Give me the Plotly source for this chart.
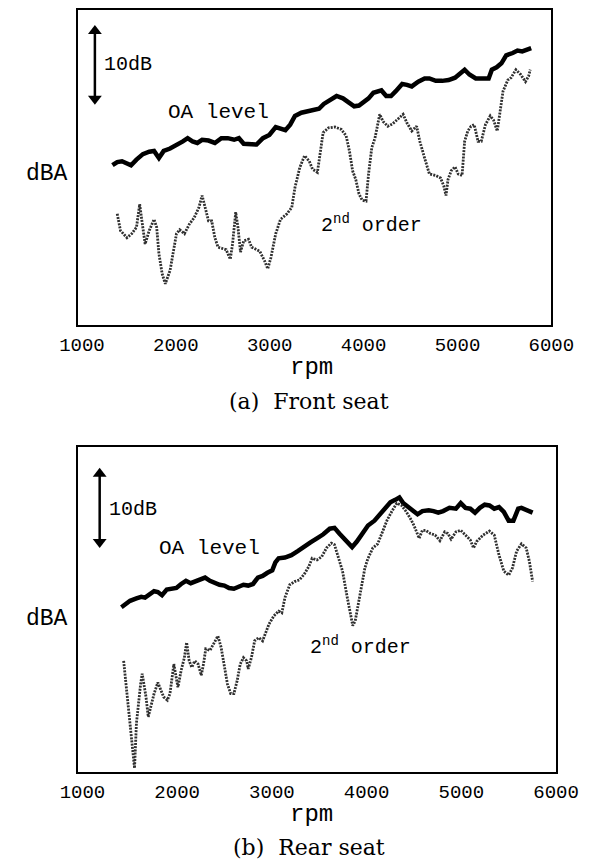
import plotly.graph_objects as go

# ---------------- data ----------------
front_oa_rpm = [1325,1376,1427,1479,1523,1581,1649,1717,1768,1820,1871,1939,2007,2075,2126,2178,2229,2280,2348,2416,
                2485,2553,2621,2672,2723,2791,2860,2928,2996,3064,3115,3167,3218,3269,3337,3405,3473,3525,3576,3644,
                3712,3780,3831,3900,3951,4019,4053,4104,4190,4241,4292,4343,4411,4462,4513,4582,4650,4701,4769,4837,
                4906,4974,5042,5076,5127,5195,5264,5332,5366,5417,5468,5519,5588,5639,5690,5741,5785]
front_oa_db = [20.1,20.5,20.6,20.3,20.1,20.8,21.5,21.8,21.9,21.0,21.9,22.2,22.6,23.1,23.5,23.1,22.9,23.3,23.2,22.9,
               23.5,23.5,23.3,23.5,22.8,22.7,22.7,23.5,23.9,24.9,24.7,24.5,25.2,26.3,26.7,26.9,27.0,27.2,27.8,28.3,
               28.8,28.5,28.1,27.5,27.6,28.2,28.5,29.2,29.5,28.8,28.8,29.4,30.3,30.2,30.0,30.6,31.0,31.0,30.7,30.7,
               30.8,31.1,31.8,32.1,31.5,31.0,31.0,31.0,32.1,32.4,32.9,33.9,34.2,34.5,34.4,34.6,34.8]

front_o2_rpm = [1376,1410,1479,1530,1581,1615,1639,1673,1717,1768,1796,1820,1854,1888,1939,1973,2007,2041,2092,2144,
                2195,2246,2280,2321,2348,2382,2416,2450,2502,2536,2580,2604,2638,2662,2689,2723,2774,2808,2843,2894,
                2945,2979,3013,3064,3115,3184,3235,3269,3320,3371,3422,3456,3508,3542,3569,3627,3695,3763,3814,3849,
                3883,3917,3951,3985,4026,4053,4087,4121,4172,4207,4258,4309,4360,4421,4462,4513,4565,4599,4650,4701,
                4769,4820,4854,4878,4899,4933,4974,5008,5049,5076,5110,5144,5178,5219,5253,5298,5349,5383,5424,5451,
                5485,5536,5571,5622,5673,5724,5758,5775]
front_o2_db = [14.0,11.9,11.0,11.5,12.3,15.2,13.1,10.2,11.9,13.3,12.3,9.0,6.5,5.2,6.9,9.4,11.5,12.0,11.5,12.7,
               13.5,14.8,16.3,14.4,13.1,13.1,11.0,9.8,9.6,9.5,8.3,10.2,14.2,12.3,9.2,10.6,10.8,9.8,9.6,9.3,
               8.1,7.1,8.5,11.5,13.3,14.0,14.8,17.3,19.8,21.3,20.6,19.6,19.2,21.9,24.2,24.8,24.9,24.6,23.8,21.9,
               19.4,18.3,16.5,15.7,15.6,19.0,22.3,23.5,26.5,25.6,25.0,25.3,25.8,26.5,25.4,24.4,25.0,23.1,21.0,19.0,
               18.8,18.5,17.5,16.3,18.3,19.4,19.9,19.0,18.8,23.1,24.4,25.0,25.2,23.1,23.1,25.2,26.3,25.8,24.4,26.9,
               29.4,30.8,31.1,32.1,31.5,30.6,31.3,32.1]

rear_oa_rpm = [1411,1452,1503,1570,1621,1661,1705,1756,1796,1840,1890,1941,1992,2042,2093,2143,2194,2245,2295,2346,
               2396,2447,2498,2548,2599,2649,2700,2750,2801,2852,2902,2953,3004,3037,3071,3138,3206,3273,3341,3408,
               3476,3543,3611,3661,3712,3779,3847,3897,3948,4015,4083,4150,4201,4251,4302,4346,4386,4454,4504,4538,
               4589,4656,4707,4757,4808,4875,4943,4994,5044,5095,5145,5196,5247,5297,5348,5398,5449,5500,5550,5601,
               5635,5685,5753]
rear_oa_db = [20.6,21.0,21.4,21.7,21.9,21.8,22.2,22.6,22.5,22.1,22.8,22.9,23.0,23.5,23.9,23.6,23.8,24.1,24.3,23.9,
              23.6,23.4,23.3,23.0,22.9,23.2,23.4,23.3,23.5,24.3,24.5,24.9,25.2,26.2,26.7,26.8,27.1,27.6,28.2,28.7,
              29.2,29.7,30.4,30.5,29.8,29.0,28.1,28.8,29.6,30.8,31.4,32.3,32.9,33.7,34.0,34.3,33.6,32.9,32.5,32.2,
              32.6,32.7,32.6,32.4,32.6,33.0,32.9,33.6,33.0,32.9,32.4,33.0,33.4,33.3,32.9,33.1,32.5,31.4,31.4,32.9,
              33.0,32.7,32.4]

rear_o2_rpm = [1435,1459,1486,1513,1536,1550,1570,1587,1614,1631,1648,1671,1695,1722,1756,1796,1830,1857,1897,1924,
               1965,1992,2008,2042,2076,2100,2127,2154,2187,2221,2255,2278,2302,2346,2380,2430,2464,2491,2531,2565,
               2599,2633,2666,2700,2734,2750,2784,2818,2862,2902,2936,2970,3020,3071,3105,3138,3189,3240,3290,3341,
               3391,3425,3476,3526,3577,3628,3661,3695,3746,3796,3830,3854,3880,3914,3948,3982,4015,4066,4117,4167,
               4218,4268,4319,4370,4420,4471,4504,4555,4589,4623,4673,4724,4774,4825,4859,4892,4943,4994,5044,5095,
               5129,5162,5230,5297,5348,5398,5449,5500,5540,5584,5635,5685,5719,5753]
rear_o2_db = [13.9,11.0,7.3,4.4,2.1,0.5,6.1,8.1,11.0,12.3,11.0,9.4,6.9,8.1,9.8,11.2,10.2,9.4,9.0,9.8,
              13.5,11.9,10.6,12.7,14.3,16.2,13.9,13.1,13.9,13.5,12.1,13.5,15.4,15.2,16.0,17.0,15.6,13.5,11.0,9.8,
              9.8,11.4,13.5,14.3,13.9,12.9,14.3,16.4,16.8,16.4,17.4,18.5,19.5,20.1,19.9,21.8,23.4,23.8,24.0,24.7,
              25.7,26.7,26.5,26.9,28.0,28.6,28.4,27.1,25.1,21.8,19.7,18.3,18.9,21.0,23.4,25.5,26.7,28.0,28.5,30.0,
              31.5,32.6,33.6,33.3,32.5,31.5,30.7,29.2,30.2,30.2,29.8,29.6,28.9,30.0,29.8,29.1,30.0,30.2,29.6,29.0,
              28.0,28.8,29.6,30.1,29.6,27.1,25.1,24.6,25.5,27.6,28.5,28.0,26.3,23.8]

rpm_ticks = [1000, 2000, 3000, 4000, 5000, 6000]
scale_db = 10  # length of the scale arrow, dB
captions = ["(a)\u00a0 Front seat", "(b)\u00a0 Rear seat"]

# ---------------- figure ----------------
W, H = 600, 860
OFF = 8  # page body margin of the browser
MONO = "Liberation Mono, Courier New, monospace"
SERIF = "DejaVu Serif, Liberation Serif, serif"

def px(x):
    return min(1.0, max(0.0, (x - OFF) / W))

def py(y):
    return min(1.0, max(0.0, 1 - (y - OFF) / H))

fig = go.Figure()

oa_line = dict(color="black", width=4.5)
o2_line = dict(color="#303030", width=2.8, dash="2px,1.2px")

fig.add_trace(go.Scatter(x=front_oa_rpm, y=front_oa_db, mode="lines", line=oa_line, xaxis="x", yaxis="y"))
fig.add_trace(go.Scatter(x=front_o2_rpm, y=front_o2_db, mode="lines", line=o2_line, xaxis="x", yaxis="y"))
fig.add_trace(go.Scatter(x=rear_oa_rpm, y=rear_oa_db, mode="lines", line=oa_line, xaxis="x2", yaxis="y2"))
fig.add_trace(go.Scatter(x=rear_o2_rpm, y=rear_o2_db, mode="lines", line=o2_line, xaxis="x2", yaxis="y2"))

# 10 dB scale arrows (double-headed)
for xa, ya, ax_x, lo in [("x", "y", 1138, 27.7), ("x2", "y2", 1182, 28.0)]:
    hi = lo + scale_db
    fig.add_trace(go.Scatter(x=[ax_x, ax_x], y=[lo + 0.5, hi - 0.5], mode="lines",
                             line=dict(color="black", width=2.5), xaxis=xa, yaxis=ya, hoverinfo="skip"))
    fig.add_trace(go.Scatter(x=[ax_x, ax_x], y=[lo + 0.75, hi - 0.75], mode="markers",
                             marker=dict(symbol=["triangle-down", "triangle-up"], size=12, color="black",
                                         line=dict(width=0)),
                             xaxis=xa, yaxis=ya, hoverinfo="skip"))

xcommon = dict(showline=True, mirror=True, linecolor="black", linewidth=2, showgrid=False, zeroline=False,
               tickvals=rpm_ticks, ticktext=[str(v) for v in rpm_ticks], ticks="",
               tickfont=dict(family=MONO, size=19, color="black"), ticklabelstandoff=1)
ycommon = dict(showline=True, mirror=True, linecolor="black", linewidth=2, showgrid=False, zeroline=False,
               showticklabels=False, ticks="")

fig.update_layout(
    width=W, height=H, margin=dict(l=0, r=0, t=0, b=0),
    paper_bgcolor="white", plot_bgcolor="white", showlegend=False,
    xaxis=dict(xcommon, domain=[px(63.5), px(572)], range=[955, 6001], anchor="y"),
    yaxis=dict(ycommon, domain=[py(324), py(8)], range=[0, 39.6], anchor="x"),
    xaxis2=dict(xcommon, domain=[px(63.5), px(577)], range=[950, 6001], anchor="y2"),
    yaxis2=dict(ycommon, domain=[py(772), py(446)], range=[0, 40.6], anchor="x2"),
)

ann = []
for xr, yr, db_x, db_y, oa_x, oa_y, o2_x, o2_y in [
    ("x", "y", 1496, 32.7, 2450, 26.7, 4087, 12.7),
    ("x2", "y2", 1536, 32.8, 2346, 27.9, 3931, 15.7),
]:
    ann.append(dict(x=db_x, y=db_y, xref=xr, yref=yr, text="10dB", showarrow=False,
                    font=dict(family=MONO, size=20, color="black"), xanchor="center", yanchor="middle"))
    ann.append(dict(x=oa_x, y=oa_y, xref=xr, yref=yr, text="OA level", showarrow=False,
                    font=dict(family=MONO, size=21, color="black"), xanchor="center", yanchor="middle"))
    ann.append(dict(x=o2_x, y=o2_y, xref=xr, yref=yr, text="2<sup>nd</sup> order", showarrow=False,
                    font=dict(family=MONO, size=20, color="black"), xanchor="center", yanchor="middle"))

for cy, rpm_y, cap_y, cap in [(172, 366, 400, captions[0]), (618, 814, 847, captions[1])]:
    ann.append(dict(x=px(31), y=py(cy), xref="paper", yref="paper", text="dBA", showarrow=False,
                    font=dict(family=MONO, size=23, color="black"), xanchor="center", yanchor="middle"))
    ann.append(dict(x=px(314), y=py(rpm_y), xref="paper", yref="paper", text="rpm", showarrow=False,
                    font=dict(family=MONO, size=24, color="black"), xanchor="center", yanchor="middle"))
    ann.append(dict(x=px(312), y=py(cap_y), xref="paper", yref="paper", text=cap, showarrow=False,
                    font=dict(family=SERIF, size=22, color="black"), xanchor="center", yanchor="middle"))

fig.update_layout(annotations=ann)
fig.write_html("out.html")
